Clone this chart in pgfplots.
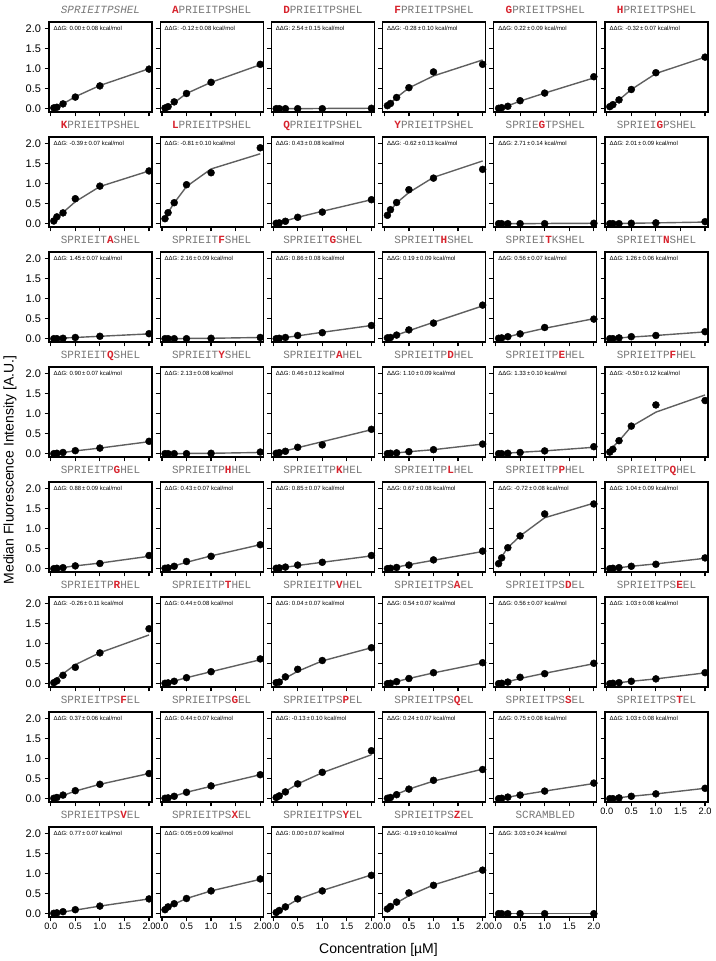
\documentclass[border=0pt]{standalone}
\usepackage{fontspec}
\setmainfont{Liberation Sans}
\setmonofont{Liberation Mono}
\usepackage{pgfplots}
\pgfplotsset{compat=1.18}
\definecolor{ttlgray}{RGB}{120,120,120}
\definecolor{mutred}{RGB}{215,35,45}
\definecolor{fitgray}{RGB}{95,95,95}
\newcommand{\m}[1]{\textcolor{mutred}{\bfseries #1}}
\pgfplotsset{
 panel/.style={
   scale only axis, width=103pt, height=90pt, anchor=south west,
   xmin=-0.035, xmax=2.06, ymin=-0.083, ymax=2.17,
   xtick={0,0.5,1,1.5,2}, ytick={0,0.5,1,1.5,2},
   tick align=outside, tick pos=left, major tick length=4.5pt,
   tick style={black, line width=1.2pt},
   axis line style={line width=1.3pt},
   xticklabels={}, yticklabels={},
   yticklabel style={font=\fontsize{11}{13}\selectfont},
   xticklabel style={font=\fontsize{9.3}{11}\selectfont, inner sep=1pt},
   clip=false,
 },
 ylab/.style={yticklabels={0.0,0.5,1.0,1.5,2.0}},
 xlab/.style={xticklabels={0.0,0.5,1.0,1.5,2.0}},
 fitline/.style={no marks, color=fitgray, line width=1.4pt},
 dots/.style={only marks, mark=*, mark size=3.5pt, black},
}
\newcommand{\panel}[7]{%
\begin{axis}[panel, at={(#1pt,#2pt)}, #3]
\addplot[fitline] coordinates {#7};
\addplot[dots] coordinates {#6};
\node[anchor=base west, font=\fontsize{6}{7}\selectfont, inner sep=0pt] at (rel axis cs:0.042,0.911) {ΔΔG: #5 kcal/mol};
\node[anchor=base, font=\ttfamily\fontsize{11}{13}\selectfont, text=ttlgray, yshift=8.7pt, inner sep=0pt] at (rel axis cs:0.5,1) {#4};
\end{axis}}
\begin{document}
\begin{tikzpicture}
\path[use as bounding box] (0,0) rectangle (715pt,961pt);
% Row 1
\panel{49}{849}{ylab}{\textit{SPRIEITPSHEL}}{0.00\,±\,0.08}
 {(0.0625,0.02)(0.125,0.035)(0.25,0.12)(0.5,0.29)(1,0.57)(2,0.99)}
 {(0.0625,0.02)(0.125,0.05)(0.25,0.12)(0.5,0.3)(1,0.58)(2,1.0)}
\panel{160.2}{849}{}{\m{A}PRIEITPSHEL}{-0.12\,±\,0.08}
 {(0.0625,0.017)(0.125,0.05)(0.25,0.17)(0.5,0.38)(1,0.66)(2,1.11)}
 {(0.0625,0.02)(0.125,0.05)(0.25,0.15)(0.5,0.38)(1,0.66)(2,1.1)}
\panel{271.4}{849}{}{\m{D}PRIEITPSHEL}{2.54\,±\,0.15}
 {(0.0625,0)(0.125,0)(0.25,0)(0.5,0)(1,0)(2,0.01)}
 {(0.0625,0)(0.125,0)(0.25,0)(0.5,0)(1,0.005)(2,0.01)}
\panel{382.6}{849}{}{\m{F}PRIEITPSHEL}{-0.28\,±\,0.10}
 {(0.0625,0.075)(0.125,0.13)(0.25,0.28)(0.5,0.525)(1,0.92)(2,1.11)}
 {(0.0625,0.07)(0.125,0.14)(0.25,0.28)(0.5,0.52)(1,0.82)(2,1.22)}
\panel{493.8}{849}{}{\m{G}PRIEITPSHEL}{0.22\,±\,0.09}
 {(0.0625,0.01)(0.125,0.025)(0.25,0.06)(0.5,0.2)(1,0.39)(2,0.8)}
 {(0.0625,0.01)(0.125,0.03)(0.25,0.07)(0.5,0.19)(1,0.39)(2,0.77)}
\panel{605}{849}{}{\m{H}PRIEITPSHEL}{-0.32\,±\,0.07}
 {(0.0625,0.05)(0.125,0.1)(0.25,0.22)(0.5,0.48)(1,0.9)(2,1.29)}
 {(0.0625,0.05)(0.125,0.11)(0.25,0.22)(0.5,0.48)(1,0.88)(2,1.29)}
% Row 2
\panel{49}{734}{ylab}{\m{K}PRIEITPSHEL}{-0.39\,±\,0.07}
 {(0.0625,0.067)(0.125,0.17)(0.25,0.27)(0.5,0.625)(1,0.94)(2,1.32)}
 {(0.0625,0.07)(0.125,0.15)(0.25,0.28)(0.5,0.55)(1,0.93)(2,1.32)}
\panel{160.2}{734}{}{\m{L}PRIEITPSHEL}{-0.81\,±\,0.10}
 {(0.0625,0.125)(0.125,0.275)(0.25,0.525)(0.5,0.975)(1,1.275)(2,1.9)}
 {(0.0625,0.14)(0.125,0.28)(0.25,0.52)(0.5,0.93)(1,1.37)(2,1.75)}
\panel{271.4}{734}{}{\m{Q}PRIEITPSHEL}{0.43\,±\,0.08}
 {(0.0625,0.01)(0.125,0.02)(0.25,0.06)(0.5,0.16)(1,0.29)(2,0.6)}
 {(0.0625,0.01)(0.125,0.03)(0.25,0.07)(0.5,0.16)(1,0.31)(2,0.6)}
\panel{382.6}{734}{}{\m{Y}PRIEITPSHEL}{-0.62\,±\,0.13}
 {(0.0625,0.21)(0.125,0.35)(0.25,0.53)(0.5,0.85)(1,1.14)(2,1.36)}
 {(0.0625,0.2)(0.125,0.33)(0.25,0.52)(0.5,0.78)(1,1.16)(2,1.57)}
\panel{493.8}{734}{}{SPRIE\m{G}TPSHEL}{2.71\,±\,0.14}
 {(0.0625,0)(0.125,0)(0.25,0)(0.5,0)(1,0)(2,0.01)}
 {(0.0625,0)(0.125,0)(0.25,0)(0.5,0)(1,0.005)(2,0.01)}
\panel{605}{734}{}{SPRIEI\m{G}PSHEL}{2.01\,±\,0.09}
 {(0.0625,0)(0.125,0)(0.25,0)(0.5,0.01)(1,0.02)(2,0.05)}
 {(0.0625,0)(0.125,0)(0.25,0.005)(0.5,0.01)(1,0.02)(2,0.04)}
% Row 3
\panel{49}{619}{ylab}{SPRIEIT\m{A}SHEL}{1.45\,±\,0.07}
 {(0.0625,0)(0.125,0)(0.25,0.01)(0.5,0.03)(1,0.06)(2,0.125)}
 {(0.0625,0)(0.125,0.01)(0.25,0.015)(0.5,0.03)(1,0.06)(2,0.12)}
\panel{160.2}{619}{}{SPRIEIT\m{F}SHEL}{2.16\,±\,0.09}
 {(0.0625,0)(0.125,0)(0.25,0)(0.5,0)(1,0.01)(2,0.03)}
 {(0.0625,0)(0.125,0)(0.25,0)(0.5,0.005)(1,0.01)(2,0.03)}
\panel{271.4}{619}{}{SPRIEIT\m{G}SHEL}{0.86\,±\,0.08}
 {(0.0625,0)(0.125,0.01)(0.25,0.03)(0.5,0.08)(1,0.15)(2,0.33)}
 {(0.0625,0.005)(0.125,0.01)(0.25,0.03)(0.5,0.07)(1,0.16)(2,0.33)}
\panel{382.6}{619}{}{SPRIEIT\m{H}SHEL}{0.19\,±\,0.09}
 {(0.0625,0.02)(0.125,0.03)(0.25,0.09)(0.5,0.22)(1,0.39)(2,0.84)}
 {(0.0625,0.02)(0.125,0.04)(0.25,0.09)(0.5,0.2)(1,0.41)(2,0.82)}
\panel{493.8}{619}{}{SPRIEI\m{T}KSHEL}{0.56\,±\,0.07}
 {(0.0625,0.01)(0.125,0.02)(0.25,0.05)(0.5,0.12)(1,0.28)(2,0.49)}
 {(0.0625,0.01)(0.125,0.02)(0.25,0.05)(0.5,0.12)(1,0.26)(2,0.5)}
\panel{605}{619}{}{SPRIEIT\m{N}SHEL}{1.26\,±\,0.06}
 {(0.0625,0)(0.125,0)(0.25,0.02)(0.5,0.05)(1,0.08)(2,0.175)}
 {(0.0625,0.005)(0.125,0.01)(0.25,0.02)(0.5,0.04)(1,0.08)(2,0.17)}
% Row 4
\panel{49}{504}{ylab}{SPRIEIT\m{Q}SHEL}{0.90\,±\,0.07}
 {(0.0625,0)(0.125,0.01)(0.25,0.03)(0.5,0.075)(1,0.14)(2,0.31)}
 {(0.0625,0.005)(0.125,0.01)(0.25,0.03)(0.5,0.07)(1,0.14)(2,0.3)}
\panel{160.2}{504}{}{SPRIEIT\m{Y}SHEL}{2.13\,±\,0.08}
 {(0.0625,0)(0.125,0)(0.25,0)(0.5,0)(1,0.01)(2,0.04)}
 {(0.0625,0)(0.125,0)(0.25,0)(0.5,0.005)(1,0.01)(2,0.03)}
\panel{271.4}{504}{}{SPRIEITP\m{A}HEL}{0.46\,±\,0.12}
 {(0.0625,0.01)(0.125,0.025)(0.25,0.06)(0.5,0.16)(1,0.22)(2,0.61)}
 {(0.0625,0.02)(0.125,0.04)(0.25,0.07)(0.5,0.15)(1,0.3)(2,0.6)}
\panel{382.6}{504}{}{SPRIEITP\m{D}HEL}{1.10\,±\,0.09}
 {(0.0625,0)(0.125,0.01)(0.25,0.02)(0.5,0.05)(1,0.1)(2,0.24)}
 {(0.0625,0.005)(0.125,0.01)(0.25,0.02)(0.5,0.05)(1,0.1)(2,0.24)}
\panel{493.8}{504}{}{SPRIEITP\m{E}HEL}{1.33\,±\,0.10}
 {(0.0625,0)(0.125,0)(0.25,0.01)(0.5,0.03)(1,0.07)(2,0.175)}
 {(0.0625,0.005)(0.125,0.01)(0.25,0.015)(0.5,0.035)(1,0.07)(2,0.16)}
\panel{605}{504}{}{SPRIEITP\m{F}HEL}{-0.50\,±\,0.12}
 {(0.0625,0.04)(0.125,0.11)(0.25,0.325)(0.5,0.69)(1,1.22)(2,1.33)}
 {(0.0625,0.08)(0.125,0.17)(0.25,0.32)(0.5,0.68)(1,1.04)(2,1.47)}
% Row 5
\panel{49}{389}{ylab}{SPRIEITP\m{G}HEL}{0.88\,±\,0.09}
 {(0.0625,0)(0.125,0.01)(0.25,0.025)(0.5,0.07)(1,0.13)(2,0.33)}
 {(0.0625,0.005)(0.125,0.01)(0.25,0.03)(0.5,0.07)(1,0.14)(2,0.31)}
\panel{160.2}{389}{}{SPRIEITP\m{H}HEL}{0.43\,±\,0.07}
 {(0.0625,0.01)(0.125,0.02)(0.25,0.06)(0.5,0.18)(1,0.31)(2,0.6)}
 {(0.0625,0.01)(0.125,0.03)(0.25,0.07)(0.5,0.16)(1,0.32)(2,0.6)}
\panel{271.4}{389}{}{SPRIEITP\m{K}HEL}{0.85\,±\,0.07}
 {(0.0625,0.01)(0.125,0.02)(0.25,0.04)(0.5,0.09)(1,0.16)(2,0.33)}
 {(0.0625,0.01)(0.125,0.015)(0.25,0.035)(0.5,0.08)(1,0.16)(2,0.32)}
\panel{382.6}{389}{}{SPRIEITP\m{L}HEL}{0.67\,±\,0.08}
 {(0.0625,0)(0.125,0.01)(0.25,0.03)(0.5,0.09)(1,0.22)(2,0.44)}
 {(0.0625,0.01)(0.125,0.02)(0.25,0.04)(0.5,0.1)(1,0.21)(2,0.43)}
\panel{493.8}{389}{}{SPRIEITP\m{P}HEL}{-0.72\,±\,0.08}
 {(0.0625,0.125)(0.125,0.27)(0.25,0.525)(0.5,0.82)(1,1.37)(2,1.62)}
 {(0.0625,0.15)(0.125,0.3)(0.25,0.525)(0.5,0.82)(1,1.275)(2,1.64)}
\panel{605}{389}{}{SPRIEITP\m{Q}HEL}{1.04\,±\,0.09}
 {(0.0625,0)(0.125,0.01)(0.25,0.025)(0.5,0.06)(1,0.11)(2,0.27)}
 {(0.0625,0.005)(0.125,0.01)(0.25,0.025)(0.5,0.06)(1,0.12)(2,0.26)}
% Row 6
\panel{49}{274}{ylab}{SPRIEITP\m{R}HEL}{-0.26\,±\,0.11}
 {(0.0625,0.025)(0.125,0.07)(0.25,0.21)(0.5,0.41)(1,0.77)(2,1.375)}
 {(0.0625,0.06)(0.125,0.13)(0.25,0.25)(0.5,0.475)(1,0.775)(2,1.22)}
\panel{160.2}{274}{}{SPRIEITP\m{T}HEL}{0.44\,±\,0.08}
 {(0.0625,0.01)(0.125,0.02)(0.25,0.06)(0.5,0.15)(1,0.3)(2,0.62)}
 {(0.0625,0.015)(0.125,0.03)(0.25,0.065)(0.5,0.15)(1,0.3)(2,0.6)}
\panel{271.4}{274}{}{SPRIEITP\m{V}HEL}{0.04\,±\,0.07}
 {(0.0625,0.025)(0.125,0.04)(0.25,0.17)(0.5,0.36)(1,0.58)(2,0.9)}
 {(0.0625,0.03)(0.125,0.06)(0.25,0.14)(0.5,0.31)(1,0.57)(2,0.9)}
\panel{382.6}{274}{}{SPRIEITPS\m{A}EL}{0.54\,±\,0.07}
 {(0.0625,0)(0.125,0.01)(0.25,0.05)(0.5,0.13)(1,0.275)(2,0.525)}
 {(0.0625,0.01)(0.125,0.025)(0.25,0.055)(0.5,0.13)(1,0.27)(2,0.52)}
\panel{493.8}{274}{}{SPRIEITPS\m{D}EL}{0.56\,±\,0.07}
 {(0.0625,0)(0.125,0.01)(0.25,0.04)(0.5,0.16)(1,0.25)(2,0.51)}
 {(0.0625,0.01)(0.125,0.02)(0.25,0.05)(0.5,0.13)(1,0.26)(2,0.5)}
\panel{605}{274}{}{SPRIEITPS\m{E}EL}{1.03\,±\,0.08}
 {(0.0625,0)(0.125,0.01)(0.25,0.025)(0.5,0.06)(1,0.12)(2,0.275)}
 {(0.0625,0.005)(0.125,0.01)(0.25,0.025)(0.5,0.06)(1,0.12)(2,0.27)}
% Row 7
\panel{49}{159}{ylab}{SPRIEITPS\m{F}EL}{0.37\,±\,0.06}
 {(0.0625,0.01)(0.125,0.03)(0.25,0.09)(0.5,0.2)(1,0.36)(2,0.63)}
 {(0.0625,0.015)(0.125,0.035)(0.25,0.08)(0.5,0.19)(1,0.36)(2,0.63)}
\panel{160.2}{159}{}{SPRIEITPS\m{G}EL}{0.44\,±\,0.07}
 {(0.0625,0.01)(0.125,0.02)(0.25,0.06)(0.5,0.16)(1,0.32)(2,0.6)}
 {(0.0625,0.015)(0.125,0.03)(0.25,0.065)(0.5,0.16)(1,0.31)(2,0.6)}
\panel{271.4}{159}{}{SPRIEITPS\m{P}EL}{-0.13\,±\,0.10}
 {(0.0625,0.03)(0.125,0.07)(0.25,0.17)(0.5,0.37)(1,0.66)(2,1.2)}
 {(0.0625,0.04)(0.125,0.08)(0.25,0.18)(0.5,0.37)(1,0.65)(2,1.1)}
\panel{382.6}{159}{}{SPRIEITPS\m{Q}EL}{0.24\,±\,0.07}
 {(0.0625,0.01)(0.125,0.03)(0.25,0.1)(0.5,0.24)(1,0.46)(2,0.73)}
 {(0.0625,0.02)(0.125,0.05)(0.25,0.11)(0.5,0.24)(1,0.44)(2,0.74)}
\panel{493.8}{159}{}{SPRIEITPS\m{S}EL}{0.75\,±\,0.08}
 {(0.0625,0)(0.125,0.01)(0.25,0.04)(0.5,0.09)(1,0.19)(2,0.39)}
 {(0.0625,0.01)(0.125,0.02)(0.25,0.04)(0.5,0.09)(1,0.19)(2,0.38)}
\panel{605}{159}{xlab}{SPRIEITPS\m{T}EL}{1.03\,±\,0.08}
 {(0.0625,0)(0.125,0)(0.25,0.02)(0.5,0.06)(1,0.12)(2,0.26)}
 {(0.0625,0.005)(0.125,0.01)(0.25,0.025)(0.5,0.06)(1,0.12)(2,0.26)}
% Row 8
\panel{49}{44}{ylab,xlab}{SPRIEITPS\m{V}EL}{0.77\,±\,0.07}
 {(0.0625,0.01)(0.125,0.02)(0.25,0.05)(0.5,0.1)(1,0.19)(2,0.37)}
 {(0.0625,0.01)(0.125,0.02)(0.25,0.045)(0.5,0.09)(1,0.19)(2,0.37)}
\panel{160.2}{44}{xlab}{SPRIEITPS\m{X}EL}{0.05\,±\,0.09}
 {(0.0625,0.1)(0.125,0.17)(0.25,0.25)(0.5,0.38)(1,0.57)(2,0.87)}
 {(0.0625,0.08)(0.125,0.14)(0.25,0.24)(0.5,0.38)(1,0.57)(2,0.86)}
\panel{271.4}{44}{xlab}{SPRIEITPS\m{Y}EL}{0.00\,±\,0.07}
 {(0.0625,0.03)(0.125,0.08)(0.25,0.17)(0.5,0.37)(1,0.57)(2,0.96)}
 {(0.0625,0.03)(0.125,0.07)(0.25,0.17)(0.5,0.36)(1,0.58)(2,0.97)}
\panel{382.6}{44}{xlab}{SPRIEITPS\m{Z}EL}{-0.19\,±\,0.10}
 {(0.0625,0.12)(0.125,0.18)(0.25,0.29)(0.5,0.52)(1,0.71)(2,1.09)}
 {(0.0625,0.1)(0.125,0.17)(0.25,0.27)(0.5,0.45)(1,0.72)(2,1.1)}
\panel{493.8}{44}{xlab}{SCRAMBLED}{3.03\,±\,0.24}
 {(0.0625,0)(0.125,0)(0.25,0)(0.5,0)(1,0)(2,0)}
 {(0.0625,0)(0.125,0)(0.25,0)(0.5,0)(1,0)(2,0)}
% Axis labels
\node[rotate=90, font=\fontsize{14}{16}\selectfont] at (10pt,491pt) {Median Fluorescence Intensity [A.U.]};
\node[anchor=base, font=\fontsize{14}{16}\selectfont] at (378.5pt,8pt) {Concentration [µM]};
\end{tikzpicture}
\end{document}
